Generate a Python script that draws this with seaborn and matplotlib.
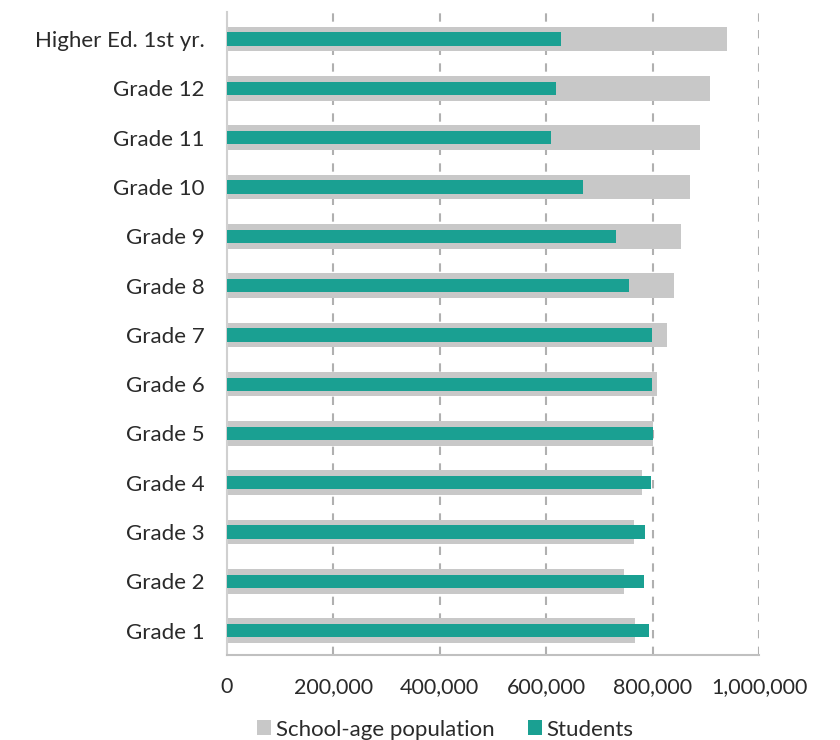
import matplotlib
matplotlib.use("Agg")
import matplotlib.pyplot as plt
from matplotlib.patches import Patch
from matplotlib.ticker import FuncFormatter
import seaborn as sns
import pandas as pd

categories = ["Higher Ed. 1st yr.", "Grade 12", "Grade 11", "Grade 10", "Grade 9",
              "Grade 8", "Grade 7", "Grade 6", "Grade 5", "Grade 4", "Grade 3",
              "Grade 2", "Grade 1"]
school_age_population = [940000, 908000, 889000, 870000, 853000, 840000, 827000,
                         808000, 800000, 780000, 764000, 746000, 766000]
students = [628000, 618000, 609000, 669000, 731000, 755000, 799000,
            798000, 800000, 796000, 786000, 784000, 793000]
x_ticks = [0, 200000, 400000, 600000, 800000, 1000000]

df = pd.DataFrame({"category": categories,
                   "population": school_age_population,
                   "students": students})

sns.set_theme(style="white")
plt.rcParams["font.family"] = ["Lato", "DejaVu Sans"]

GRAY = "#c8c8c8"
TEAL = "#1aa092"
TEXT = "#2a2a2a"

fig = plt.figure(figsize=(8.4, 7.4), dpi=100)
ax = fig.add_axes([0.270, 0.115, 0.634, 0.869])

sns.barplot(data=df, x="population", y="category", order=categories,
            color=GRAY, width=0.5, saturation=1, ax=ax, zorder=2,
            edgecolor="none", linewidth=0)
sns.barplot(data=df, x="students", y="category", order=categories,
            color=TEAL, width=0.27, saturation=1, ax=ax, zorder=3,
            edgecolor="none", linewidth=0)

ax.set_xlim(0, 1000000)
ax.set_ylim(12.49, -0.55)
ax.set_xlabel("")
ax.set_ylabel("")
ax.set_xticks(x_ticks)
ax.xaxis.set_major_formatter(FuncFormatter(lambda v, p: f"{int(v):,}"))

for t in x_ticks[1:]:
    ax.axvline(t, color="#b0b0b0", linestyle=(0, (4, 4)), linewidth=1.5, zorder=1)

for s in ["top", "right"]:
    ax.spines[s].set_visible(False)
ax.spines["left"].set_color("#d0d0d0")
ax.spines["left"].set_linewidth(1.5)
ax.spines["bottom"].set_color("#c0c0c0")
ax.spines["bottom"].set_linewidth(1.5)

ax.tick_params(axis="x", direction="inout", length=8, width=1.2, color="#c0c0c0",
               labelsize=15.5, labelcolor=TEXT, pad=12)
ax.tick_params(axis="y", length=0, labelsize=16, labelcolor=TEXT, pad=16)

handles = [Patch(facecolor=GRAY, edgecolor="none", label="School-age population"),
           Patch(facecolor=TEAL, edgecolor="none", label="Students")]
fig.legend(handles=handles, loc="center", bbox_to_anchor=(0.53, 0.014), ncol=2,
           frameon=False, fontsize=16, handlelength=0.65, handleheight=0.65,
           handletextpad=0.2, columnspacing=1.5, labelcolor=TEXT)

fig.savefig("out.png", dpi=100)
